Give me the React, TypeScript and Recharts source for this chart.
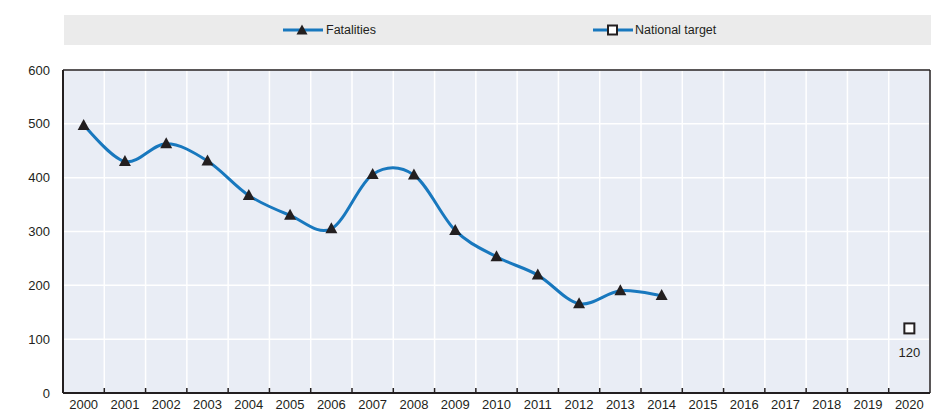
import React from "react";
import {
  ComposedChart,
  Line,
  XAxis,
  YAxis,
  CartesianGrid,
  LabelList,
} from "recharts";

const years = [
  2000, 2001, 2002, 2003, 2004, 2005, 2006, 2007, 2008, 2009, 2010, 2011, 2012,
  2013, 2014, 2015, 2016, 2017, 2018, 2019, 2020,
];
const fatalities: (number | null)[] = [
  497, 430, 463, 431, 367, 330, 305, 406, 405, 302, 253, 219, 166, 190, 181,
  null, null, null, null, null, null,
];
const nationalTarget: (number | null)[] = [
  null, null, null, null, null, null, null, null, null, null, null, null, null,
  null, null, null, null, null, null, null, 120,
];
const yTicks = [0, 100, 200, 300, 400, 500, 600];
const bandEdges = years.slice(0, -1).map((y) => y + 0.5);

const data = years.map((year, i) => ({
  year,
  fatalities: fatalities[i],
  target: nationalTarget[i],
}));

const FONT = '"Liberation Sans", Arial, sans-serif';
const BLUE = "#1878BE";
const DARK = "#231F20";

// Excel-like smoothed line (uniform Catmull-Rom as cubic Beziers)
function smoothCurve(context: any) {
  let pts: [number, number][] = [];
  return {
    areaStart() {},
    areaEnd() {},
    lineStart() {
      pts = [];
    },
    point(x: number, y: number) {
      pts.push([+x, +y]);
    },
    lineEnd() {
      const n = pts.length;
      if (!n) return;
      context.moveTo(pts[0][0], pts[0][1]);
      for (let i = 0; i < n - 1; i++) {
        const p0 = pts[i - 1] || pts[i];
        const p1 = pts[i];
        const p2 = pts[i + 1];
        const p3 = pts[i + 2] || p2;
        const c1x = p1[0] + (p2[0] - p0[0]) / 6;
        const c1y = p1[1] + (p2[1] - p0[1]) / 6;
        const c2x = p2[0] - (p3[0] - p1[0]) / 6;
        const c2y = p2[1] - (p3[1] - p1[1]) / 6;
        context.bezierCurveTo(c1x, c1y, c2x, c2y, p2[0], p2[1]);
      }
    },
  };
}

const EmptyTick = () => <g />;

const TriangleDot = (props: any) => {
  const { cx, cy, index } = props;
  if (cx == null || cy == null || props.value == null) return <g key={`t${index}`} />;
  const w = 12;
  const h = 11;
  return (
    <polygon
      key={`t${index}`}
      points={`${cx},${cy - h / 2 - 1} ${cx - w / 2},${cy + h / 2 - 1} ${cx + w / 2},${cy + h / 2 - 1}`}
      fill={DARK}
    />
  );
};

const SquareDot = (props: any) => {
  const { cx, cy, index } = props;
  if (cx == null || cy == null || props.value == null) return <g key={`s${index}`} />;
  const s = 10;
  return (
    <rect
      key={`s${index}`}
      x={cx - s / 2}
      y={cy - s / 2}
      width={s}
      height={s}
      fill="#FFFFFF"
      stroke={DARK}
      strokeWidth={2}
    />
  );
};

const LegendIcon = ({ kind }: { kind: "tri" | "sq" }) => (
  <svg width={41} height={14} style={{ display: "block" }}>
    <line x1={1} y1={7} x2={41} y2={7} stroke={BLUE} strokeWidth={3} />
    {kind === "tri" ? (
      <polygon points="20,1.5 14.5,11.5 25.5,11.5" fill={DARK} />
    ) : (
      <rect x={16} y={2.5} width={9} height={9} fill="#fff" stroke={DARK} strokeWidth={2} />
    )}
  </svg>
);

export default function App() {
  const tickStyle = { fontFamily: FONT, fontSize: 13, fill: DARK };
  return (
    <div
      style={{
        position: "absolute",
        left: 0,
        top: 0,
        width: 951,
        height: 417,
        background: "#fff",
        fontFamily: FONT,
      }}
    >
      <div
        style={{
          position: "absolute",
          left: 64,
          top: 15,
          width: 867,
          height: 30,
          background: "#EBEBEB",
        }}
      >
        <div
          style={{
            position: "absolute",
            left: 218,
            top: 0,
            height: 30,
            display: "flex",
            alignItems: "center",
            whiteSpace: "nowrap",
          }}
        >
          <LegendIcon kind="tri" />
          <span style={{ fontSize: 12.5, color: DARK, marginLeft: 3 }}>Fatalities</span>
        </div>
        <div
          style={{
            position: "absolute",
            left: 528,
            top: 0,
            height: 30,
            display: "flex",
            alignItems: "center",
            whiteSpace: "nowrap",
          }}
        >
          <LegendIcon kind="sq" />
          <span style={{ fontSize: 12.5, color: DARK, marginLeft: 2 }}>National target</span>
        </div>
      </div>
      <ComposedChart
        width={951}
        height={417}
        data={data}
        margin={{ top: 69, right: 20, bottom: 0, left: 0 }}
        style={{ position: "absolute", left: 0, top: 0 }}
      >
        <CartesianGrid
          xAxisId="edges"
          yAxisId="left"
          fill="#E9EDF5"
          stroke="#FFFFFF"
          strokeWidth={1.5}
        />
        <XAxis
          xAxisId="main"
          dataKey="year"
          type="number"
          domain={[1999.5, 2020.5]}
          ticks={years}
          interval={0}
          height={24}
          tickSize={0}
          tickMargin={7}
          tickLine={false}
          axisLine={{ stroke: DARK, strokeWidth: 2 }}
          tick={tickStyle}
        />
        <XAxis
          xAxisId="edges"
          dataKey="year"
          type="number"
          domain={[1999.5, 2020.5]}
          ticks={bandEdges}
          interval={0}
          orientation="bottom"
          mirror
          height={1}
          tick={EmptyTick}
          tickSize={5}
          tickLine={{ stroke: DARK, strokeWidth: 1.5 }}
          axisLine={false}
        />
        <XAxis
          xAxisId="top"
          dataKey="year"
          type="number"
          domain={[1999.5, 2020.5]}
          ticks={[2000]}
          orientation="top"
          height={1}
          tick={EmptyTick}
          tickLine={false}
          axisLine={{ stroke: DARK, strokeWidth: 1.5 }}
        />
        <YAxis
          yAxisId="left"
          domain={[0, 600]}
          ticks={yTicks}
          interval={0}
          width={63}
          tickSize={0}
          tickMargin={13}
          tickLine={false}
          axisLine={{ stroke: DARK, strokeWidth: 2 }}
          tick={tickStyle}
        />
        <YAxis
          yAxisId="leftTicks"
          domain={[0, 600]}
          ticks={[100, 200, 300, 400, 500]}
          interval={0}
          mirror
          width={1}
          tick={EmptyTick}
          tickSize={5}
          tickLine={{ stroke: DARK, strokeWidth: 1.5 }}
          axisLine={false}
        />
        <YAxis
          yAxisId="right"
          orientation="right"
          domain={[0, 600]}
          ticks={[0]}
          width={1}
          tick={EmptyTick}
          tickLine={false}
          axisLine={{ stroke: DARK, strokeWidth: 1.5 }}
        />
        <Line
          xAxisId="main"
          yAxisId="left"
          dataKey="fatalities"
          name="Fatalities"
          type={smoothCurve as any}
          stroke={BLUE}
          strokeWidth={3}
          dot={TriangleDot}
          activeDot={false}
          isAnimationActive={false}
        />
        <Line
          xAxisId="main"
          yAxisId="left"
          dataKey="target"
          name="National target"
          stroke={BLUE}
          strokeWidth={3}
          dot={SquareDot}
          activeDot={false}
          isAnimationActive={false}
        >
          <LabelList
            dataKey="target"
            position="bottom"
            offset={19}
            style={{ fontFamily: FONT, fontSize: 13, fill: DARK }}
          />
        </Line>
      </ComposedChart>
    </div>
  );
}
